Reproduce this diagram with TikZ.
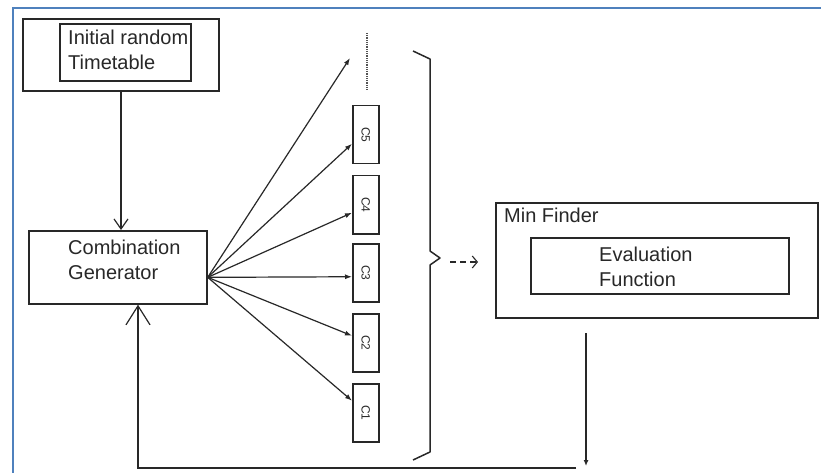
\documentclass[tikz,border=0pt]{standalone}
\usepackage{fontspec}
\setmainfont{Liberation Sans}
\usetikzlibrary{arrows.meta,calc}
\definecolor{frameblue}{RGB}{79,129,189}
\definecolor{ink}{RGB}{40,40,40}
\begin{document}
\begin{tikzpicture}[x=1pt,y=-1pt,
  box/.style={draw=ink,line width=1.7pt,anchor=north west,inner sep=0pt},
  cbox/.style={draw=ink,line width=1.5pt,anchor=north west,inner sep=0pt,
    minimum width=26pt,minimum height=58pt},
  lbl/.style={font=\fontsize{20}{25}\selectfont,text=ink,align=left,inner sep=0pt},
  clbl/.style={font=\fontsize{12}{13}\selectfont,text=ink,rotate=-90,inner sep=0pt},
  link/.style={draw=ink,line width=1.2pt},
  fan/.style={link,-{Latex[length=7pt,width=5pt]}},
  smallV/.style={link,-{Straight Barb[length=10pt,width=14pt]}},
  bigV/.style={link,-{Straight Barb[length=19pt,width=24pt]}},
  dasharrow/.style={draw=ink,line width=1.6pt,dash pattern=on 6pt off 4pt,
    -{Straight Barb[length=5pt,width=12pt,line width=1.1pt]}}
]
\useasboundingbox (0,0) rectangle (821,473);
\fill[white] (0,0) rectangle (821,473);

% page frame
\draw[frameblue,line width=2.5pt] (13,473) -- (13,8) -- (821,8);

% initial timetable
\node[box,minimum width=196pt,minimum height=72pt] (init) at (22,18) {};
\node[box,minimum width=131pt,minimum height=57pt] (initIn) at (59,23) {};
\node[lbl,anchor=west] (initText) at (68,50) {Initial random\\Timetable};

% combination generator
\node[box,minimum width=178pt,minimum height=73pt] (comb) at (28,230) {};
\node[lbl,anchor=west] (combText) at (68,260) {Combination\\Generator};

% candidate combinations
\node[cbox] (c5) at (352,105) {};
\node[cbox] (c4) at (352,175) {};
\node[cbox] (c3) at (352,243) {};
\node[cbox] (c2) at (352,313) {};
\node[cbox] (c1) at (352,383) {};
\node[clbl] (c5t) at (c5.center) {C5};
\node[clbl] (c4t) at (c4.center) {C4};
\node[clbl] (c3t) at (c3.center) {C3};
\node[clbl] (c2t) at (c2.center) {C2};
\node[clbl] (c1t) at (c1.center) {C1};

% continuation marks
\coordinate (dotTop) at (367,33);
\coordinate (dotBot) at (367,89);
\draw[ink!80,line width=2.6pt,dash pattern=on 1pt off 0.8pt] (dotTop) -- (dotBot);
\coordinate (moreTip) at (350,58);

% fan of arrows
\coordinate (fanSrc) at ([yshift=-10pt]comb.east);
\draw[fan] (fanSrc) -- (moreTip);
\draw[fan] (fanSrc) -- ([yshift=-9pt]c5.west);
\draw[fan] (fanSrc) -- ([yshift=-8pt]c4.west);
\draw[fan] (fanSrc) -- ([yshift=-4pt]c3.west);
\draw[fan] (fanSrc) -- ([yshift=7pt]c2.west);
\draw[fan] (fanSrc) -- ([yshift=12pt]c1.west);

% timetable feeds generator
\coordinate (xIn) at (121,0);
\draw[smallV] (xIn |- init.south) -- (xIn |- comb.north);

% brace grouping the combinations
\coordinate (braceTip) at (440,258);
\draw[ink,line width=1.5pt,line join=round]
  (413,51) -- (430,59) -- (430,251) -- (braceTip) -- (430,265) -- (430,452) -- (413,460);

% min finder
\node[box,minimum width=322pt,minimum height=115pt] (minf) at (495,202) {};
\node[lbl,anchor=north west] (minfText) at (504,208) {Min Finder};
\node[box,minimum width=258pt,minimum height=56pt] (eval) at (530,237) {};
\node[lbl,anchor=west] (evalText) at (599,267) {Evaluation\\Function};

% brace to min finder
\coordinate (dashEnd) at (478,262);
\draw[dasharrow] ([xshift=10pt]braceTip |- dashEnd) -- (dashEnd);

% result back to generator
\coordinate (downTop) at (586,333);
\coordinate (downEnd) at (586,466);
\draw[link,-{Latex[length=6pt,width=5pt]}] (downTop) -- (downEnd);
\coordinate (retStart) at (576,468);
\coordinate (xRet) at (138,0);
\draw[bigV] (retStart) -- (xRet |- retStart) -- (xRet |- comb.south);
\end{tikzpicture}
\end{document}
